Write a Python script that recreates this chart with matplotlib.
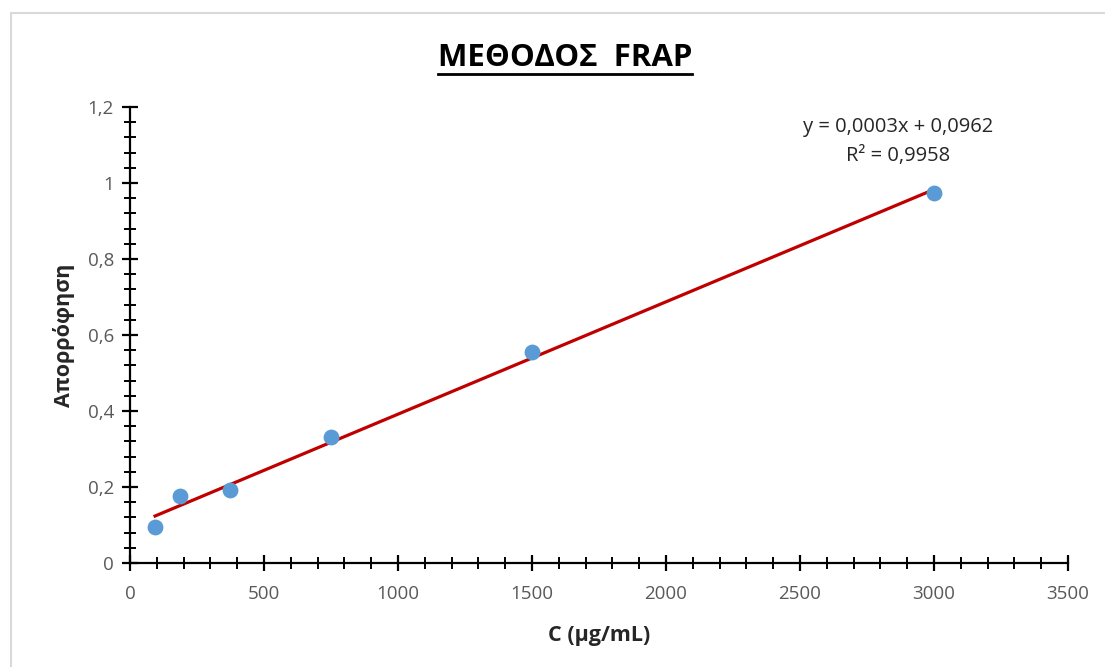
import numpy as np
import matplotlib.pyplot as plt
from matplotlib.ticker import MultipleLocator, FuncFormatter
from matplotlib.patches import Rectangle
from matplotlib.lines import Line2D

# concentration (ug/mL) and absorbance values
conc = [93.75, 187.5, 375, 750, 1500, 3000]
absorb = [0.094, 0.177, 0.192, 0.331, 0.555, 0.973]

eq_text = "y = 0,0003x + 0,0962"
r2_text = "R² = 0,9958"

plt.rcParams['font.family'] = ['Open Sans', 'DejaVu Sans']

fig = plt.figure(figsize=(11.05, 6.67), dpi=100)
ax = fig.add_axes([0.1176, 0.1559, 0.8489, 0.6837])

# light grey chart border
fig.patches.append(Rectangle((11 / 1105, -0.05), 1.2, 1 - 13 / 667 + 0.05,
                             transform=fig.transFigure, fill=False,
                             edgecolor='#d9d9d9', linewidth=1.5))

ax.scatter(conc, absorb, s=130, color='#5b9bd5', zorder=3, linewidths=0)

# linear trendline over the data range
slope, intercept = np.polyfit(conc, absorb, 1)
xs = np.array([min(conc), max(conc)])
ax.plot(xs, slope * xs + intercept, color='#c00000', linewidth=2.3, zorder=2)

ax.set_xlim(0, 3500)
ax.set_ylim(0, 1.2)
ax.xaxis.set_major_locator(MultipleLocator(500))
ax.xaxis.set_minor_locator(MultipleLocator(100))
ax.yaxis.set_major_locator(MultipleLocator(0.2))
ax.yaxis.set_minor_locator(MultipleLocator(0.04))
ax.yaxis.set_major_formatter(FuncFormatter(lambda v, p: f"{v:.1f}".rstrip('0').rstrip('.').replace('.', ',')))

for s in ['top', 'right']:
    ax.spines[s].set_visible(False)
for s in ['left', 'bottom']:
    ax.spines[s].set_linewidth(1.6)
    ax.spines[s].set_color('black')

ax.tick_params(which='major', direction='inout', length=11, width=1.6,
               color='black', labelsize=13.5, labelcolor='#595959', pad=6)
ax.tick_params(axis='x', which='major', pad=10)
ax.tick_params(which='minor', direction='inout', length=8, width=1.4, color='black')

ax.set_xlabel("C (μg/mL)", fontsize=15.5, fontweight='bold', color='#262626', labelpad=16)
ax.set_ylabel("Απορρόφηση", fontsize=15.5, fontweight='bold', color='#262626', labelpad=9)

ax.text(0.819, 0.957, eq_text, transform=ax.transAxes, ha='center', va='center',
        fontsize=14.5, color='#262626')
ax.text(0.819, 0.893, r2_text, transform=ax.transAxes, ha='center', va='center',
        fontsize=14.5, color='#262626')

title = fig.text(565 / 1105, 1 - 58 / 667, "ΜΕΘΟΔΟΣ  FRAP", ha='center', va='center',
                 fontsize=22.5, fontweight='bold', color='black')

# underline under the title
fig.canvas.draw()
bb = title.get_window_extent().transformed(fig.transFigure.inverted())
uy = 1 - 74 / 667
fig.lines.append(Line2D([bb.x0, bb.x1], [uy, uy], transform=fig.transFigure,
                        color='black', linewidth=2))

fig.savefig("out.png", dpi=100)
